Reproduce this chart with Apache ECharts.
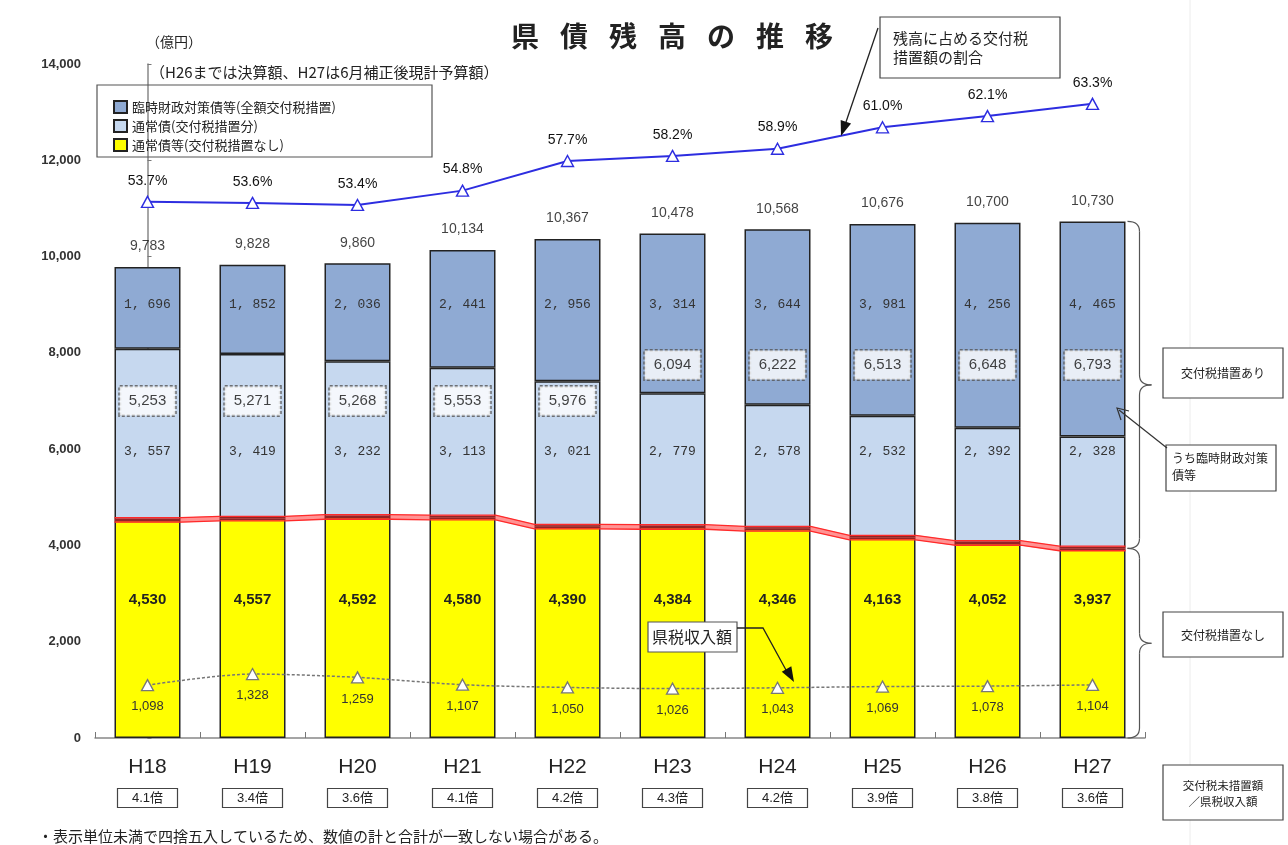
<!DOCTYPE html>
<html><head><meta charset="utf-8">
<script src="https://cdn.jsdelivr.net/npm/echarts@6/dist/echarts.min.js"></script>
<style>html,body{margin:0;padding:0;background:#fff}#c{width:1288px;height:845px}</style>
</head><body><div id="c"></div>
<script>
// ---- data ----
const categories = ['H18','H19','H20','H21','H22','H23','H24','H25','H26','H27'];
const rinjiValues = [1696,1852,2036,2441,2956,3314,3644,3981,4256,4465];          // 臨時財政対策債等
const tsujoSochiValues = [3557,3419,3232,3113,3021,2779,2578,2532,2392,2328];     // 通常債(交付税措置分)
const tsujoNashiValues = [4530,4557,4592,4580,4390,4384,4346,4163,4052,3937];     // 通常債等(交付税措置なし)
const totalValues = [9783,9828,9860,10134,10367,10478,10568,10676,10700,10730];
const sochiAriValues = [5253,5271,5268,5553,5976,6094,6222,6513,6648,6793];       // 交付税措置あり
const ratioValues = [53.7,53.6,53.4,54.8,57.7,58.2,58.9,61.0,62.1,63.3];          // 割合(%)
const taxRevenueValues = [1098,1328,1259,1107,1050,1026,1043,1069,1078,1104];     // 県税収入額
const multipleLabels = ['4.1倍','3.4倍','3.6倍','4.1倍','4.2倍','4.3倍','4.2倍','3.9倍','3.8倍','3.6倍'];
const seriesNames = ['臨時財政対策債等(全額交付税措置)','通常債(交付税措置分)','通常債等(交付税措置なし)'];

// ---- layout ----
const W = 1288, H = 845;
const GRID = {left:95, right:143, top:64, bottom:107};
const Y_MAX = 14000;
const PLOT_H = H - GRID.top - GRID.bottom;
const K = PLOT_H / Y_MAX;
const BAR_W = 66;
const CAT_W = (W - GRID.left - GRID.right) / categories.length;
const HALF = BAR_W / CAT_W / 2;
const JP = '"Noto Sans CJK JP", "Noto Sans", sans-serif';
const NUM = '"Liberation Sans", Arial, "Noto Sans CJK JP", sans-serif';
const MONO = '"Liberation Mono", "DejaVu Sans Mono", monospace';
const TOP_LABEL_V = 9000, MID_LABEL_V = 5940, YEL_LABEL_V = 2870;
const BOX_LOW_V = 7000, BOX_HIGH_V = 7750;
const yPix = v => GRID.top + (Y_MAX - v) * K;
const xCenter = i => GRID.left + CAT_W * (i + 0.5);

const fmtComma = v => String(v).replace(/\B(?=(\d{3})+(?!\d))/g, ',');
const fmtSpace = v => String(v).replace(/\B(?=(\d{3})+(?!\d))/g, ', ');
const off = (center, target) => [0, (center - target) * K];

const COL_TOP = '#8faad3', COL_MID = '#c6d8ef', COL_YEL = '#ffff00';
const barItem = c => ({color: c, borderColor: '#222', borderWidth: 1.5});

// red double line: flat over each bar, sloped between
const redPts = d => {
  const pts = [];
  tsujoNashiValues.forEach((v, i) => { pts.push([i - HALF, v + d]); pts.push([i + HALF, v + d]); });
  return pts;
};
const RED_D = 2.3 / K;

function arrowHead(x1, y1, x2, y2, len, wid) {
  const a = Math.atan2(y2 - y1, x2 - x1);
  const bx = x2 - len * Math.cos(a), by = y2 - len * Math.sin(a);
  const px = -Math.sin(a) * wid / 2, py = Math.cos(a) * wid / 2;
  return [[x2, y2], [bx + px, by + py], [bx - px, by - py]];
}
const BRACE_STYLE = {stroke: '#555', fill: null, lineWidth: 1.2};
function brace(x, y1, y2, w, r) {
  const xm = x + w / 2, ym = (y1 + y2) / 2;
  const q = (x1, y1_, cx, cy, x2, y2_) => ({type: 'bezierCurve', z: 30, shape: {x1, y1: y1_, cpx1: cx, cpy1: cy, x2, y2: y2_}, style: BRACE_STYLE});
  const l = (x1, y1_, x2, y2_) => ({type: 'line', z: 30, shape: {x1, y1: y1_, x2, y2: y2_}, style: BRACE_STYLE});
  return [
    q(x, y1, xm, y1, xm, y1 + r),
    l(xm, y1 + r, xm, ym - r),
    q(xm, ym - r, xm, ym, x + w, ym),
    q(x + w, ym, xm, ym, xm, ym + r),
    l(xm, ym + r, xm, y2 - r),
    q(xm, y2 - r, xm, y2, x, y2)
  ];
}

const lastX = xCenter(categories.length - 1) + BAR_W / 2;
const topLast = yPix(totalValues[totalValues.length - 1]);
const midLast = yPix(tsujoNashiValues[tsujoNashiValues.length - 1]);
const zeroY = yPix(0);

const txt = (text, x, y, size, opts = {}) => ({
  type: 'text', z: 50,
  style: Object.assign({text, x, y, fontSize: size, fontFamily: JP, fill: '#222', align: 'left', verticalAlign: 'middle'}, opts)
});
const box = (x, y, w, h, extra = {}) => ({type: 'rect', z: 40, shape: {x, y, width: w, height: h},
  style: Object.assign({fill: '#fff', stroke: '#444', lineWidth: 1.2}, extra)});

const TITLE_GAP = '\u2002\u2005';
const graphic = [
  {type: 'line', z: 0, shape: {x1: 1190, y1: 0, x2: 1190, y2: H}, style: {stroke: '#ececec', lineWidth: 1}},
  txt(['県','債','残','高','の','推','移'].join(TITLE_GAP), 672, 36, 28, {align: 'center', fontWeight: 'bold'}),
  txt('（億円）', 146, 42, 14),
  txt('（H26までは決算額、H27は6月補正後現計予算額）', 150, 72, 15),
  box(97, 85, 335, 72, {stroke: '#555', fill: 'rgba(255,255,255,0)'}),
  // ratio callout
  box(880, 17, 180, 61),
  txt('残高に占める交付税', 893, 38, 15),
  txt('措置額の割合', 893, 57, 15),
  {type: 'line', z: 45, shape: {x1: 878, y1: 28, x2: 846, y2: 122}, style: {stroke: '#222', lineWidth: 1.3}},
  {type: 'polygon', z: 45, shape: {points: arrowHead(878, 28, 841, 136, 15, 11)}, style: {fill: '#111'}},
  // tax revenue callout
  box(648, 622, 89, 30, {stroke: '#555'}),
  txt('県税収入額', 692, 637, 16, {align: 'center'}),
  {type: 'polyline', z: 45, shape: {points: [[737, 628], [763, 628], [786, 670]]}, style: {stroke: '#222', lineWidth: 1.3, fill: null}},
  {type: 'polygon', z: 45, shape: {points: arrowHead(763, 628, 794, 682, 15, 11)}, style: {fill: '#111'}},
  // right annotations
  ...brace(lastX + 2, topLast, midLast, 24, 10),
  ...brace(lastX + 2, midLast, zeroY, 24, 10),
  box(1163, 348, 120, 50),
  txt('交付税措置あり', 1223, 373, 12, {align: 'center'}),
  box(1166, 445, 110, 46),
  txt('うち臨時財政対策', 1172, 458, 12),
  txt('債等', 1172, 475, 12),
  {type: 'line', z: 45, shape: {x1: 1167, y1: 448, x2: 1119, y2: 410}, style: {stroke: '#333', lineWidth: 1.2}},
  {type: 'polyline', z: 45, shape: {points: [[1121, 420], [1117, 408], [1129, 411]]}, style: {stroke: '#333', lineWidth: 1.2, fill: null}},
  box(1163, 612, 120, 45),
  txt('交付税措置なし', 1223, 635, 12, {align: 'center'}),
  box(1163, 765, 120, 55),
  txt('交付税未措置額', 1223, 786, 11.5, {align: 'center'}),
  txt('／県税収入額', 1223, 802, 11.5, {align: 'center'}),
  txt('・表示単位未満で四捨五入しているため、数値の計と合計が一致しない場合がある。', 38, 836, 15)
];

const option = {
  backgroundColor: '#fff',
  animation: false,
  grid: {left: GRID.left, right: GRID.right, top: GRID.top, bottom: GRID.bottom},
  legend: {
    data: seriesNames.map(n => ({name: n, icon: 'rect'})), orient: 'vertical', left: 108, top: 95, itemGap: 5,
    itemWidth: 13, itemHeight: 12,
    textStyle: {fontSize: 13, fontFamily: JP, color: '#222'},
  },
  xAxis: [{
    type: 'category', data: categories,
    axisLine: {lineStyle: {color: '#888', width: 1.5}},
    axisTick: {show: true, inside: true, length: 6, lineStyle: {color: '#777'}},
    axisLabel: {
      margin: 6, interval: 0,
      formatter: (v, i) => `{a|${v}}\n{b|${multipleLabels[i]}}`,
      rich: {
        a: {fontSize: 21, fontFamily: NUM, color: '#222', lineHeight: 46},
        b: {fontSize: 13, fontFamily: NUM, color: '#222', borderColor: '#444', borderWidth: 1.2,
            padding: [3, 8], width: 44, align: 'center', lineHeight: 16}
      }
    }
  }, {
    type: 'value', min: -0.5, max: categories.length - 0.5, show: false
  }],
  yAxis: [{
    type: 'value', min: 0, max: Y_MAX, interval: 2000,
    axisLine: {show: true, lineStyle: {color: '#888', width: 1.5}},
    axisTick: {show: true, inside: true, length: 4, lineStyle: {color: '#777'}},
    splitLine: {show: false},
    axisLabel: {margin: 14, fontSize: 13, fontWeight: 'bold', fontFamily: NUM, color: '#333', formatter: v => fmtComma(v)}
  }, {
    type: 'value', min: 1.2, max: 67.2, show: false
  }],
  series: [
    {
      name: seriesNames[2], type: 'bar', stack: 'debt', barWidth: BAR_W, z: 2,
      itemStyle: barItem(COL_YEL),
      data: tsujoNashiValues.map(v => ({value: v, label: {offset: off(v / 2, YEL_LABEL_V)}})),
      label: {show: true, position: 'inside', formatter: p => fmtComma(p.value), fontSize: 15, fontWeight: 'bold', fontFamily: NUM, color: '#222'}
    },
    {
      name: seriesNames[1], type: 'bar', stack: 'debt', barWidth: BAR_W, z: 2,
      itemStyle: barItem(COL_MID),
      data: tsujoSochiValues.map((v, i) => ({value: v, label: {offset: off(tsujoNashiValues[i] + v / 2, MID_LABEL_V)}})),
      label: {show: true, position: 'inside', formatter: p => fmtSpace(p.value), fontSize: 13, fontFamily: MONO, color: '#333'}
    },
    {
      name: seriesNames[0], type: 'bar', stack: 'debt', barWidth: BAR_W, z: 2,
      itemStyle: barItem(COL_TOP),
      data: rinjiValues.map((v, i) => ({value: v, label: {offset: off(tsujoNashiValues[i] + tsujoSochiValues[i] + v / 2, TOP_LABEL_V)}})),
      label: {show: true, position: 'inside', formatter: p => fmtSpace(p.value), fontSize: 13, fontFamily: MONO, color: '#333'}
    },
    {
      name: '合計', type: 'scatter', symbolSize: 1, z: 6, silent: true,
      itemStyle: {color: 'rgba(0,0,0,0)'},
      data: totalValues,
      label: {show: true, position: 'top', distance: 13, formatter: p => fmtComma(p.value), fontSize: 14, fontFamily: NUM, color: '#111'}
    },
    {
      name: '交付税措置あり', type: 'scatter', symbolSize: 1, z: 6, silent: true,
      itemStyle: {color: 'rgba(0,0,0,0)'},
      data: sochiAriValues.map((v, i) => {
        const boundary = tsujoNashiValues[i] + tsujoSochiValues[i];
        const target = boundary > BOX_LOW_V + 400 ? BOX_LOW_V : BOX_HIGH_V;
        return {value: v, label: {offset: off(v, target)}};
      }),
      label: {show: true, position: 'inside', formatter: p => fmtComma(p.value), fontSize: 15, fontFamily: NUM, color: '#111',
        backgroundColor: '#fff', borderColor: '#555', borderWidth: 1.5, borderType: [3, 2], padding: [7, 9]}
    },
    {
      name: '県税収入額', type: 'line', data: taxRevenueValues, z: 4, smooth: 0.3,
      symbol: 'triangle', symbolSize: [12, 11],
      itemStyle: {color: '#fff', borderColor: '#777', borderWidth: 1.3},
      lineStyle: {color: '#777', width: 1.5, type: [3, 2]},
      label: {show: true, position: 'bottom', distance: 9, formatter: p => fmtComma(p.value), fontSize: 13, fontFamily: NUM, color: '#333'}
    },
    {
      name: 'red-band', type: 'line', xAxisIndex: 1, z: 5, symbol: 'none', silent: true,
      data: redPts(0), lineStyle: {color: 'rgba(255,40,40,0.5)', width: 5}
    },
    {
      name: 'red-a', type: 'line', xAxisIndex: 1, z: 5, symbol: 'none', silent: true,
      data: redPts(RED_D), lineStyle: {color: '#ff2a2a', width: 1.3}
    },
    {
      name: 'red-b', type: 'line', xAxisIndex: 1, z: 5, symbol: 'none', silent: true,
      data: redPts(-RED_D), lineStyle: {color: '#ff2a2a', width: 1.3}
    },
    {
      name: '割合', type: 'line', yAxisIndex: 1, data: ratioValues, z: 7,
      symbol: 'triangle', symbolSize: [12, 11],
      itemStyle: {color: '#fff', borderColor: '#2d2de0', borderWidth: 1.4},
      lineStyle: {color: '#2d2de0', width: 2},
      label: {show: true, position: 'top', distance: 8, formatter: p => p.value.toFixed(1) + '%', fontSize: 14, fontFamily: NUM, color: '#111'}
    }
  ],
  graphic
};

const chart = echarts.init(document.getElementById('c'));
chart.setOption(option);
</script>
</body></html>
